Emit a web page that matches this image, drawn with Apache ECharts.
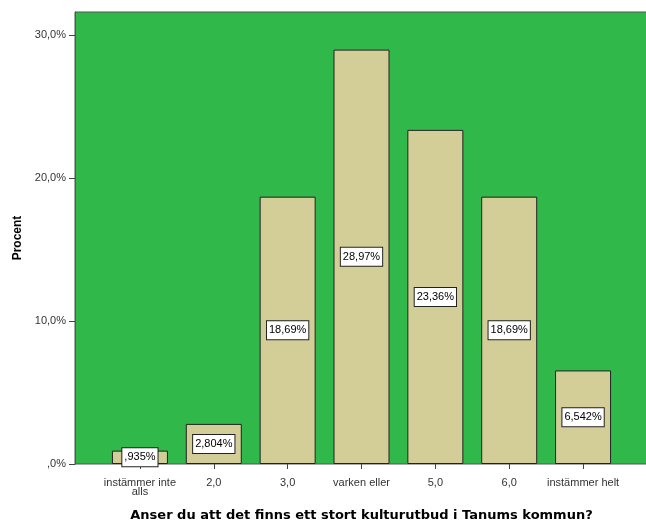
<!DOCTYPE html>
<html>
<head>
<meta charset="utf-8">
<script src="https://cdn.jsdelivr.net/npm/echarts@6/dist/echarts.min.js"></script>
<style>
  html, body { margin: 0; padding: 0; background: #fff; }
  #chart { width: 646px; height: 524px; }
</style>
</head>
<body>
<div id="chart"></div>
<script>
// Response categories and percentage of respondents per answer
const categories = ['instämmer inte\nalls', '2,0', '3,0', 'varken eller', '5,0', '6,0', 'instämmer helt'];
const percents = [0.935, 2.804, 18.69, 28.97, 23.36, 18.69, 6.542];
const yTicks = [0, 10, 20, 30];

const xTitle = 'Anser du att det finns ett stort kulturutbud i Tanums kommun?';
const yTitle = 'Procent';

const Y_MAX = 31.6;
const FONT = '"Liberation Sans", Arial, sans-serif';
const TITLE_FONT = '"DejaVu Sans", Verdana, sans-serif';

// Swedish decimal comma, no leading zero (e.g. ",935%")
function fmtPct(v) {
  return String(v).replace('.', ',').replace(/^0,/, ',') + '%';
}
function fmtTick(v) {
  return v === 0 ? ',0%' : v.toFixed(1).replace('.', ',') + '%';
}

const chart = echarts.init(document.getElementById('chart'), null, { renderer: 'canvas' });

chart.setOption({
  animation: false,
  backgroundColor: '#ffffff',
  grid: [
    // frame / background
    { left: 75, right: -1, top: 12, bottom: 60, show: true, outerBoundsMode: 'none',
      backgroundColor: '#31b84b', borderColor: '#555555', borderWidth: 1 },
    // bars
    { left: 103, right: 26, top: 12, bottom: 60, outerBoundsMode: 'none' }
  ],
  xAxis: [
    { gridIndex: 0, type: 'value', show: false, min: 0, max: 1 },
    {
      gridIndex: 1,
      type: 'category',
      data: categories,
      axisLine: { show: false },
      axisTick: { show: true, alignWithLabel: true, length: 5, lineStyle: { color: '#444', width: 1 } },
      axisLabel: { color: '#333', fontFamily: FONT, fontSize: 11, lineHeight: 9, margin: 14, interval: 0 },
      name: xTitle,
      nameLocation: 'middle',
      nameGap: 45,
      nameTextStyle: { color: '#000', fontFamily: TITLE_FONT, fontSize: 13, fontWeight: 'bold' }
    }
  ],
  yAxis: [
    {
      gridIndex: 0,
      type: 'value',
      min: 0,
      max: Y_MAX,
      interval: 10,
      splitLine: { show: false },
      axisLine: { show: true, lineStyle: { color: '#555' } },
      axisTick: { show: true, length: 6, customValues: yTicks, lineStyle: { color: '#444' } },
      axisLabel: { color: '#333', fontFamily: FONT, fontSize: 11, margin: 9,
                   customValues: yTicks, formatter: fmtTick },
      name: yTitle,
      nameLocation: 'middle',
      nameGap: 48,
      nameTextStyle: { color: '#000', fontFamily: FONT, fontSize: 12, fontWeight: 'bold' }
    },
    { gridIndex: 1, type: 'value', min: 0, max: Y_MAX, show: false }
  ],
  series: [{
    type: 'bar',
    xAxisIndex: 1,
    yAxisIndex: 1,
    data: percents,
    barWidth: 56,
    itemStyle: { color: '#d3ce98', borderColor: '#222', borderWidth: 1 },
    label: {
      show: true,
      position: 'inside',
      formatter: p => fmtPct(p.value),
      color: '#000',
      fontFamily: FONT,
      fontSize: 11,
      backgroundColor: '#fff',
      borderColor: '#222',
      borderWidth: 1,
      padding: [4, 2, 3, 2]
    }
  }]
});
</script>
</body>
</html>
